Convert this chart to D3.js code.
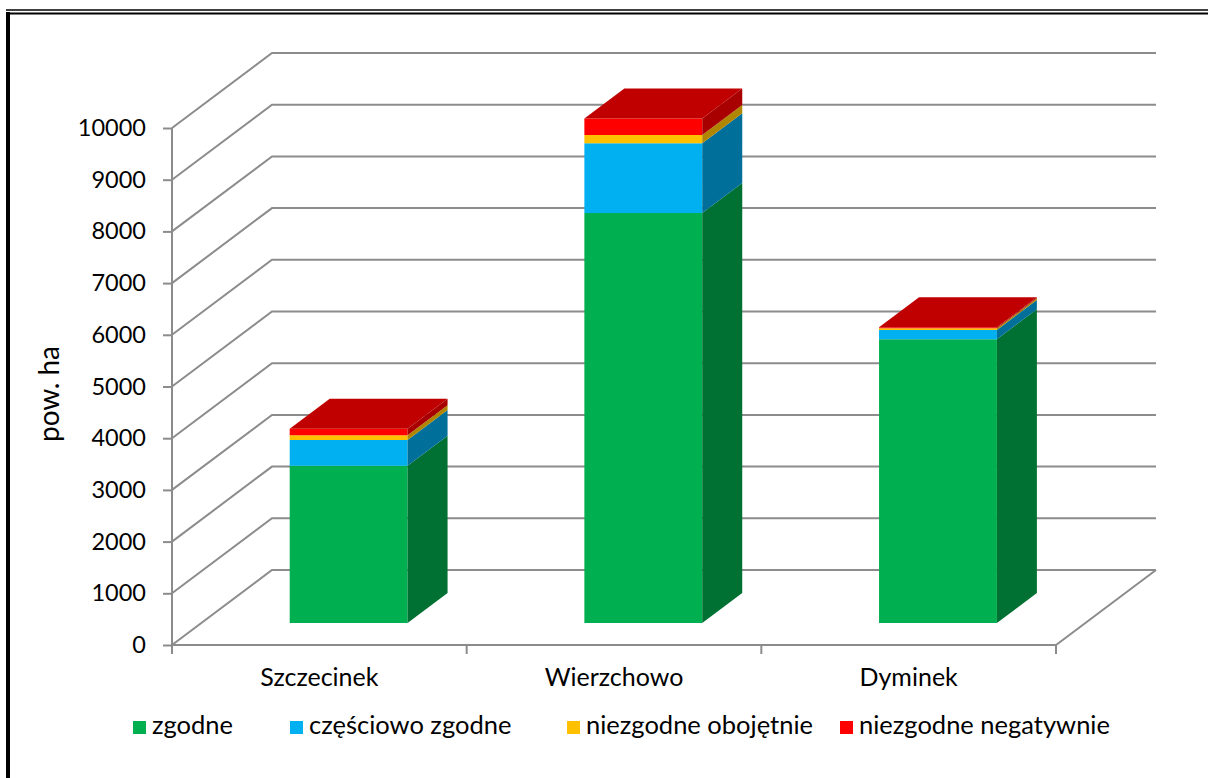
<!DOCTYPE html>
<meta charset="utf-8">
<style>
  body { margin: 0; background: #fff; }
  svg text { font-family: Lato, "Open Sans", sans-serif; fill: #000; }
  .grid { stroke: #8c8c8c; stroke-width: 2; fill: none; }
</style>
<script src="https://d3js.org/d3.v7.min.js"></script>
<div id="chart"></div>
<script>
// data (ha)
var categories = ["Szczecinek", "Wierzchowo", "Dyminek"];
var zgodne = [3040, 7930, 5490];
var czesciowo = [500, 1350, 180];
var obojetnie = [90, 160, 30];
var negatywnie = [130, 320, 20];
var seriesNames = ["zgodne", "częściowo zgodne", "niezgodne obojętnie", "niezgodne negatywnie"];
var yTicks = d3.range(0, 10001, 1000);

var frontColors = ["#00b050", "#00b0f0", "#ffc000", "#ff0000"];
var sideColors = ["#007033", "#006f9a", "#b08600", "#a80000"];
var topColor = "#c00000";

var W = 1208, H = 778;
var DX = 100, DY = -75;          // offset of the back wall
var d1 = 0.293, d2 = 0.693;      // front / back of the columns (fraction of depth)

var svg = d3.select("#chart").append("svg")
    .attr("width", W).attr("height", H);

// frame
svg.append("rect").attr("x", 6).attr("y", 12).attr("width", 4).attr("height", H - 12).attr("fill", "#000");
svg.append("line").attr("x1", 6).attr("x2", W).attr("y1", 10).attr("y2", 10).attr("stroke", "#000").attr("stroke-width", 1.5);
svg.append("line").attr("x1", 6).attr("x2", W).attr("y1", 13.5).attr("y2", 13.5).attr("stroke", "#000").attr("stroke-width", 2);

var x = d3.scaleBand().domain(categories).range([172, 1056]).paddingInner(0.6).paddingOuter(0.3);
var y = d3.scaleLinear().domain([0, 10000]).range([645, 128]);
var x0 = 172, x1 = 1056;

function pt(px, v, d) { return [px + d * DX, y(v) + d * DY]; }
var line = d3.line();

// walls: gridlines on side wall and back wall
var g = svg.append("g");
yTicks.forEach(function(v) {
  g.append("path").attr("class", "grid")
    .attr("d", line([pt(x0, v, 0), pt(x0, v, 1), pt(x1, v, 1)]));
});
// floor front edge and right edge
g.append("path").attr("class", "grid")
  .attr("d", line([pt(x0, 0, 0), pt(x1, 0, 0), pt(x1, 0, 1)]));

// y axis
var yAxis = svg.append("g")
    .attr("transform", "translate(" + x0 + ",0)")
    .call(d3.axisLeft(y).tickValues(yTicks).tickSize(9).tickPadding(17).tickFormat(d3.format("d")));
yAxis.selectAll("path, line").attr("stroke", "#8c8c8c").attr("stroke-width", 2);
yAxis.select(".domain").attr("d", "M0," + y(0) + "V" + y(10000));
yAxis.selectAll("text").style("font-size", "23.5px").attr("fill", "#000");

// category ticks at band edges
var edges = categories.map(function(c) { return x(c) - x.step() * x.paddingInner() / 2; });
edges[0] = x0; edges.push(x1);
edges.forEach(function(e) {
  svg.append("line").attr("x1", e).attr("x2", e).attr("y1", y(0)).attr("y2", y(0) + 9)
    .attr("stroke", "#8c8c8c").attr("stroke-width", 2);
});
var xAxis = svg.append("g")
    .attr("transform", "translate(0," + y(0) + ")")
    .call(d3.axisBottom(x).tickSize(0).tickPadding(23));
xAxis.select(".domain").remove();
xAxis.selectAll("text").style("font-size", "25px").attr("fill", "#000");

// axis title
svg.append("text")
  .attr("transform", "translate(52,394) rotate(-90)")
  .attr("text-anchor", "middle").attr("dominant-baseline", "middle")
  .style("font-size", "28px").text("pow. ha");

// stacked 3D columns
var series = [zgodne, czesciowo, obojetnie, negatywnie];
var bars = svg.append("g");
categories.forEach(function(c, i) {
  var left = x(c), right = x(c) + x.bandwidth();
  var base = 0;
  series.forEach(function(s, k) {
    var v0 = base, v1 = base + s[i];
    base = v1;
    // front face
    bars.append("path").attr("fill", frontColors[k])
      .attr("d", line([pt(left, v0, d1), pt(right, v0, d1), pt(right, v1, d1), pt(left, v1, d1)]) + "Z");
    // right side face
    bars.append("path").attr("fill", sideColors[k])
      .attr("d", line([pt(right, v0, d1), pt(right, v0, d2), pt(right, v1, d2), pt(right, v1, d1)]) + "Z");
    if (k === series.length - 1) {
      bars.append("path").attr("fill", topColor)
        .attr("d", line([pt(left, v1, d1), pt(right, v1, d1), pt(right, v1, d2), pt(left, v1, d2)]) + "Z");
    }
  });
});

// legend
var legendX = [133, 290, 567, 840];
var legend = svg.append("g");
seriesNames.forEach(function(n, k) {
  legend.append("rect").attr("x", legendX[k]).attr("y", 721).attr("width", 13).attr("height", 13)
    .attr("fill", frontColors[k]);
  legend.append("text").attr("x", legendX[k] + 19).attr("y", 728)
    .attr("dominant-baseline", "middle").style("font-size", "25.5px").text(n);
});
</script>
